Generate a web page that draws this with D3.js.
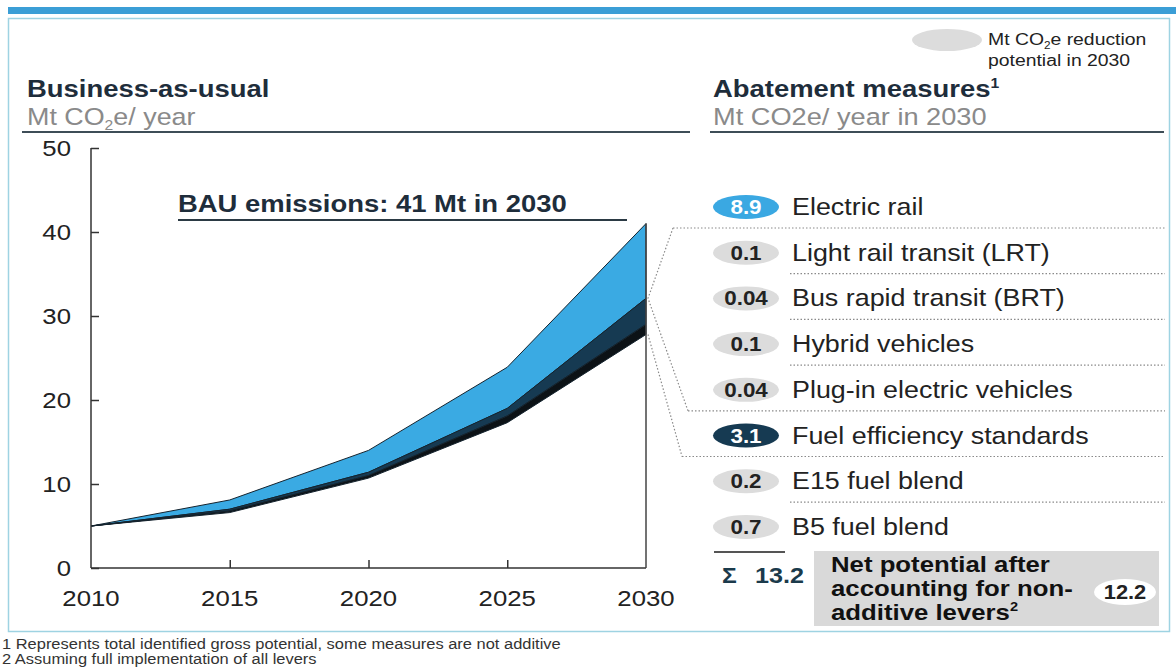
<!DOCTYPE html>
<html>
<head>
<meta charset="utf-8">
<script src="https://cdn.jsdelivr.net/npm/d3@7"></script>
<style>
  body { margin: 0; background: #fff; }
  svg { display: block; font-family: "Liberation Sans", Arial, sans-serif; }
</style>
</head>
<body>
<svg id="chart" width="1176" height="668"></svg>
<script>
// ---------------------------------------------------------------- data
const years = [2010, 2015, 2020, 2025, 2030];
const bauEmissions = [5, 8.1, 14, 23.9, 41];
const afterElectricRail = [5, 7.0, 11.4, 19.0, 32.1];
const afterFuelEfficiency = [5, 6.8, 11.0, 18.1, 29.0];
const afterAllMeasures = [5, 6.6, 10.7, 17.3, 27.8];
const yTicks = [0, 10, 20, 30, 40, 50];
const xTicks = [2010, 2015, 2020, 2025, 2030];

const measureNames = ["Electric rail", "Light rail transit (LRT)", "Bus rapid transit (BRT)",
  "Hybrid vehicles", "Plug-in electric vehicles", "Fuel efficiency standards",
  "E15 fuel blend", "B5 fuel blend"];
const measureValues = ["8.9", "0.1", "0.04", "0.1", "0.04", "3.1", "0.2", "0.7"];
const grossTotal = "13.2";
const netTotal = "12.2";

// ---------------------------------------------------------------- setup
const SX = 1.12; // source picture is a little stretched sideways
const svg = d3.select("#chart");

function txt(parent, x, y, anchor) {
  return parent.append("text")
    .attr("transform", `translate(${x},${y}) scale(${SX},1)`)
    .attr("text-anchor", anchor || "start");
}

// frame
svg.append("rect").attr("x", 8).attr("y", 7).attr("width", 1168).attr("height", 7)
  .attr("fill", "#3b9ed6");
svg.append("rect").attr("x", 8.5).attr("y", 18.5).attr("width", 1161).attr("height", 613)
  .attr("fill", "none").attr("stroke", "#9ed3e2").attr("stroke-width", 1.5);

// headings
txt(svg, 27, 97).attr("font-size", 24.5).attr("font-weight", "bold").attr("fill", "#1e2d3b")
  .text("Business-as-usual");
const sub1 = txt(svg, 27, 125).attr("font-size", 24).attr("fill", "#8a8a8a");
sub1.append("tspan").text("Mt CO");
sub1.append("tspan").attr("font-size", 14).attr("dy", 5).text("2");
sub1.append("tspan").attr("dy", -5).text("e/ year");
svg.append("line").attr("x1", 22).attr("x2", 690).attr("y1", 132).attr("y2", 132)
  .attr("stroke", "#3e4d57").attr("stroke-width", 2);

const h2 = txt(svg, 713, 97).attr("font-size", 24.5).attr("font-weight", "bold").attr("fill", "#1e2d3b");
h2.append("tspan").text("Abatement measures");
h2.append("tspan").attr("font-size", 14).attr("dy", -9).text("1");
txt(svg, 713, 125).attr("font-size", 24.3).attr("fill", "#8a8a8a").text("Mt CO2e/ year in 2030");
svg.append("line").attr("x1", 710).attr("x2", 1164).attr("y1", 132).attr("y2", 132)
  .attr("stroke", "#3e4d57").attr("stroke-width", 2);

// legend
svg.append("ellipse").attr("cx", 947).attr("cy", 40).attr("rx", 35).attr("ry", 11).attr("fill", "#dcdcdc");
const lg = txt(svg, 988, 45).attr("font-size", 17.3).attr("fill", "#222");
lg.append("tspan").text("Mt CO");
lg.append("tspan").attr("font-size", 10.5).attr("dy", 4).text("2");
lg.append("tspan").attr("dy", -4).text("e reduction");
txt(svg, 988, 66).attr("font-size", 17.3).attr("fill", "#222").text("potential in 2030");

// ---------------------------------------------------------------- area chart
const x = d3.scaleLinear().domain([2010, 2030]).range([91, 646]);
const y = d3.scaleLinear().domain([0, 50]).range([568, 148]);

const bands = [
  { top: bauEmissions, bottom: afterElectricRail, fill: "#3aaae3" },
  { top: afterElectricRail, bottom: afterFuelEfficiency, fill: "#163a52" },
  { top: afterFuelEfficiency, bottom: afterAllMeasures, fill: "#0c1216" }
];
const area = d3.area()
  .x(d => x(d.year))
  .y0(d => y(d.lo))
  .y1(d => y(d.hi));

svg.selectAll(".band")
  .data(bands)
  .join("path")
    .attr("class", "band")
    .attr("fill", d => d.fill)
    .attr("stroke", "#14232e")
    .attr("stroke-width", 1)
    .attr("stroke-linejoin", "round")
    .attr("d", b => area(years.map((yr, i) => ({ year: yr, hi: b.top[i], lo: b.bottom[i] }))));

// axes
const yAxis = d3.axisRight(y).tickValues(yTicks).tickSize(8).tickFormat("");
const gy = svg.append("g").attr("transform", `translate(${x(2010)},0)`).call(yAxis);
gy.select(".domain").attr("stroke", "#333").attr("stroke-width", 1.5).attr("d", `M0,${y(50)}V${y(0)}`);
gy.selectAll(".tick line").attr("stroke", "#333").attr("stroke-width", 1.5);

const xAxis = d3.axisTop(x).tickValues(xTicks.slice(1, -1)).tickSize(8).tickFormat("");
const gx = svg.append("g").attr("transform", `translate(0,${y(0)})`).call(xAxis);
gx.select(".domain").attr("stroke", "#333").attr("stroke-width", 1.5).attr("d", `M${x(2010)},0H${x(2030)}`);
gx.selectAll(".tick line").attr("stroke", "#333").attr("stroke-width", 1.5);

// right edge of plot at 2030
svg.append("line").attr("x1", x(2030)).attr("x2", x(2030))
  .attr("y1", y(bauEmissions[4])).attr("y2", y(0))
  .attr("stroke", "#444").attr("stroke-width", 1.5);

yTicks.forEach(t => {
  txt(svg, 71, y(t) + 8, "end").attr("font-size", 23).attr("fill", "#222").text(t);
});
xTicks.forEach(t => {
  txt(svg, x(t), 606, "middle").attr("font-size", 23).attr("fill", "#222").text(t);
});

// BAU annotation
txt(svg, 178, 212).attr("font-size", 24.5).attr("font-weight", "bold").attr("fill", "#1e2d3b")
  .text("BAU emissions: 41 Mt in 2030");
svg.append("line").attr("x1", 178).attr("x2", 627).attr("y1", 220).attr("y2", 220)
  .attr("stroke", "#2b3a44").attr("stroke-width", 2);

// ---------------------------------------------------------------- measures list
const row = d3.scalePoint().domain(measureNames).range([215, 215 + 7 * 45.7]);
const badgeFill = (i) => i === 0 ? "#3aa8e2" : (i === 5 ? "#163a52" : "#dcdcdc");
const badgeText = (i) => (i === 0 || i === 5) ? "#fff" : "#222";

const dotted = { stroke: "#8a8a8a", width: 1.2, dash: "1.5,2" };
function dottedPath(d) {
  svg.append("path").attr("d", d).attr("fill", "none")
    .attr("stroke", dotted.stroke).attr("stroke-width", dotted.width)
    .attr("stroke-dasharray", dotted.dash);
}

// separators between rows
measureNames.slice(0, -1).forEach((name, i) => {
  const sy = row(name) + 13;
  let x0 = 790;
  if (i === 0) x0 = 673;
  if (i === 4) x0 = 688;
  if (i === 5) x0 = 682;
  dottedPath(`M${x0},${sy}H1165`);
});

// connectors from the 2030 wedge to the list
const edge = x(2030) + 2;
dottedPath(`M673,${row(measureNames[0]) + 13}L${edge},${y(afterElectricRail[4])}L688,${row(measureNames[4]) + 13}`);
dottedPath(`M${edge},${y(afterAllMeasures[4])}L682,${row(measureNames[5]) + 13}`);

const rows = svg.selectAll(".measure")
  .data(measureNames)
  .join("g")
    .attr("class", "measure");

rows.append("ellipse")
  .attr("cx", 746)
  .attr("cy", d => row(d) - 8)
  .attr("rx", 33)
  .attr("ry", 12)
  .attr("fill", (d, i) => badgeFill(i));

rows.each(function(d, i) {
  const g = d3.select(this);
  txt(g, 746, row(d) - 1, "middle").attr("font-size", 20).attr("font-weight", "bold")
    .attr("fill", badgeText(i)).text(measureValues[i]);
  txt(g, 792, row(d)).attr("font-size", 24).attr("fill", "#222").text(d);
});

// sum
svg.append("line").attr("x1", 714).attr("x2", 785).attr("y1", 552).attr("y2", 552)
  .attr("stroke", "#555").attr("stroke-width", 2);
txt(svg, 722, 583).attr("font-size", 22).attr("font-weight", "bold").attr("fill", "#1b3a4b").text("Σ");
txt(svg, 755, 583).attr("font-size", 22.5).attr("font-weight", "bold").attr("fill", "#1b3a4b").text(grossTotal);

// net potential box
svg.append("rect").attr("x", 814).attr("y", 551).attr("width", 345).attr("height", 75).attr("fill", "#d9d9d9");
const netLines = ["Net potential after", "accounting for non-", "additive levers"];
netLines.forEach((s, i) => {
  const t = txt(svg, 831, 572 + i * 24).attr("font-size", 23).attr("font-weight", "bold").attr("fill", "#111");
  t.append("tspan").text(s);
  if (i === 2) t.append("tspan").attr("font-size", 13).attr("dy", -9).text("2");
});
svg.append("ellipse").attr("cx", 1125).attr("cy", 592).attr("rx", 31).attr("ry", 13).attr("fill", "#fff");
txt(svg, 1125, 599, "middle").attr("font-size", 19.5).attr("font-weight", "bold").attr("fill", "#222").text(netTotal);

// footnotes
txt(svg, 2, 649).attr("font-size", 14.7).attr("fill", "#333")
  .text("1 Represents total identified gross potential, some measures are not additive");
txt(svg, 2, 664).attr("font-size", 14.7).attr("fill", "#333")
  .text("2 Assuming full implementation of all levers");
</script>
</body>
</html>
